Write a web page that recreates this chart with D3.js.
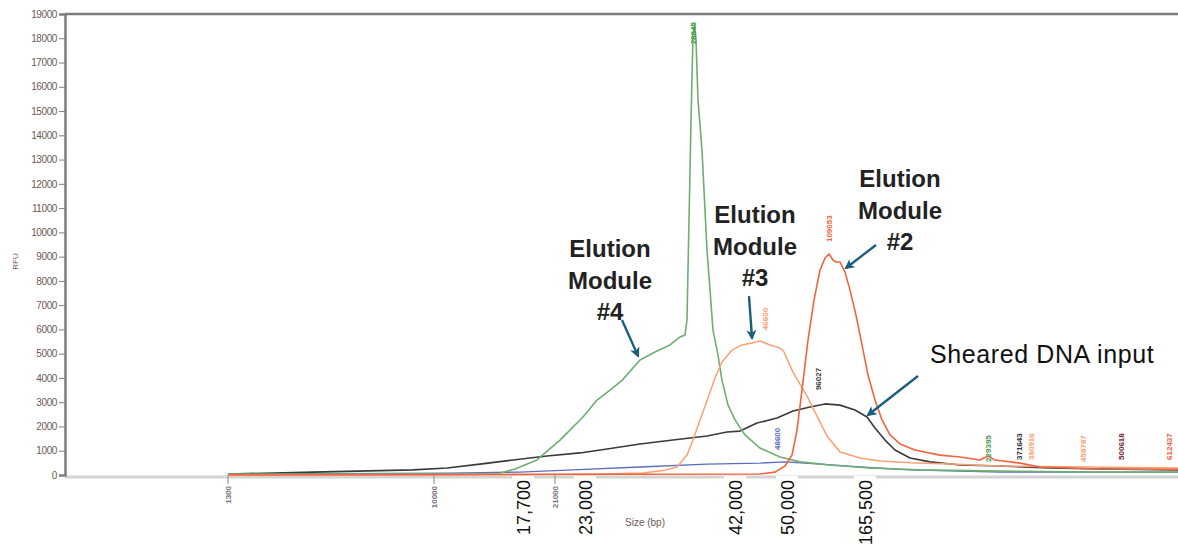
<!DOCTYPE html>
<html>
<head>
<meta charset="utf-8">
<script src="https://cdn.jsdelivr.net/npm/d3@7"></script>
<style>
  body { margin: 0; background: #fff; }
  svg { display: block; font-family: Arial, "Liberation Sans", sans-serif; }
  .tick_text { font-size: 10px; fill: #6b5a55; }
  .peak_label { font-size: 8px; font-weight: bold; }
  .note { font-size: 24px; font-weight: bold; fill: #222; }
</style>
</head>
<body>
<svg class="chart"></svg>
<script>
// x is migration position (arbitrary units), y is RFU
var y_ticks = d3.range(0, 19001, 1000)

var green_trace = [[16.3, 40], [33.5, 40], [43.2, 40], [45.0, 250], [47.2, 620], [49.5, 1440], [51.8, 2390],
    [53.2, 3090], [54.5, 3500], [55.7, 3900], [57.5, 4740], [59.0, 5070], [60.5, 5360], [61.5, 5690], [62.0, 5770],
    [62.2, 6390], [62.4, 10500], [62.6, 14600], [62.8, 18130], [62.95, 18580], [63.1, 17920], [63.3, 15450],
    [63.7, 13390], [64.0, 10920], [64.2, 9270], [64.5, 7620], [64.8, 5970], [65.3, 4940], [65.7, 3900], [66.3, 2880],
    [67.0, 2270], [68.0, 1650], [69.5, 1110], [71.5, 740], [73.5, 540], [76.5, 410], [80.5, 290], [85.5, 210],
    [93.5, 160], [103.5, 120], [111.3, 120]]

var orange_trace = [[16.3, 0], [35.5, 0], [53.5, 40], [57.8, 80], [60.0, 200], [61.2, 330], [62.2, 820], [62.8, 1440],
    [63.5, 2270], [64.3, 3170], [65.0, 4000], [65.7, 4660], [66.7, 5150], [67.7, 5360], [68.7, 5440], [69.5, 5520],
    [70.0, 5440], [70.5, 5360], [71.3, 5270], [71.8, 5150], [72.8, 4240], [74.2, 3250], [75.2, 2430], [76.2, 1610],
    [77.5, 950], [79.5, 700], [81.5, 580], [84.5, 500], [88.5, 450], [93.5, 370], [111.3, 290]]

var red_trace = [[16.3, 0], [69.5, 40], [71.0, 120], [72.0, 370], [72.7, 820], [73.2, 1850], [73.7, 3500], [74.3, 5560],
    [74.9, 7210], [75.5, 8450], [76.0, 8940], [76.4, 9110], [76.8, 8860], [77.1, 8780], [77.5, 8780], [78.0, 8360],
    [78.5, 7620], [79.1, 6590], [79.7, 5360], [80.3, 4120], [81.0, 3090], [81.7, 2270], [82.5, 1650], [83.5, 1280],
    [85.0, 1030], [87.5, 820], [89.5, 740], [91.5, 620], [92.3, 780], [93.0, 620], [95.5, 490], [97.5, 330],
    [103.5, 250], [111.3, 230]]

var black_trace = [[16.3, 40], [24.8, 120], [34.8, 210], [38.2, 290], [41.5, 450], [44.8, 620], [48.2, 780], [51.5, 910],
    [54.2, 1070], [57.5, 1280], [60.8, 1440], [64.2, 1610], [66.2, 1770], [67.5, 1810], [69.2, 2140], [71.2, 2350],
    [72.8, 2640], [74.5, 2800], [76.0, 2930], [77.5, 2880], [79.0, 2680], [80.2, 2390], [81.0, 1940], [82.0, 1440],
    [83.0, 1030], [84.5, 700], [86.5, 540], [89.5, 410], [93.5, 370], [98.5, 290], [103.5, 250], [111.3, 210]]

var blue_trace = [[16.3, 40], [38.5, 80], [45.5, 120], [50.8, 210], [57.5, 330], [64.2, 450], [69.5, 490], [72.0, 540],
    [75.5, 450], [79.5, 330], [84.5, 210], [93.5, 120], [111.3, 120]]

var traces = [
    { 'name': 'blue', 'color': '#5b6fc2', 'width': 1.3, 'values': blue_trace },
    { 'name': 'black', 'color': '#3a3a3a', 'width': 1.6, 'values': black_trace },
    { 'name': 'green', 'color': '#6fae72', 'width': 1.6, 'values': green_trace },
    { 'name': 'orange', 'color': '#f9a174', 'width': 1.5, 'values': orange_trace },
    { 'name': 'red', 'color': '#f0653f', 'width': 1.6, 'values': red_trace },
]

// peak size calls: text, colour, position, rfu where the label starts
var peak_text = ['28845', '46600', '109053', '96027', '48600', '229395', '371643', '380916', '458787', '500618', '612437']
var peak_color = ['#3f9a4a', '#f9a174', '#f0653f', '#444444', '#5b6fc2', '#4d9a4f', '#333333', '#f9a174', '#f9a174', '#7a2a2a', '#f0653f']
var peak_pos = [62.8, 70.0, 76.4, 75.3, 71.2, 92.3, 95.4, 96.6, 101.8, 105.6, 110.4]
var peak_rfu = [17750, 5970, 9600, 3500, 1030, 540, 620, 620, 540, 620, 620]

// ladder marks and hand-added size annotations
var ladder_text = ['1300', '10000', '21000']
var ladder_pos = [16.3, 36.9, 49.0]
var size_text = ['17,700', '23,000', '42,000', '50,000', '165,500']
var size_pos = [45.8, 52.0, 67.0, 72.2, 80.0]

var note_lines = [['Elution', 'Module', '#4'], ['Elution', 'Module', '#3'], ['Elution', 'Module', '#2']]
var note_pos = [54.5, 69.0, 83.5]
var note_rfu = [8970, 10370, 11850]
var arrow_from = [[55.7, 6390], [68.4, 7370], [81.1, 9480], [85.3, 4080]]
var arrow_to = [[57.3, 4910], [68.7, 5640], [78.1, 8530], [80.3, 2470]]

var width = 1178, height = 546
var margin = { left: 65, top: 14, right: 0, bottom: 71 }

var svg = d3.select('.chart')
    .attr('width', width)
    .attr('height', height)

var x = d3.scaleLinear().domain([0, 111.3]).range([margin.left, width - margin.right])
var y = d3.scaleLinear().domain([0, 19000]).range([height - margin.bottom, margin.top])

svg.append('defs').append('marker')
    .attr('id', 'head')
    .attr('viewBox', '0 0 10 10')
    .attr('refX', 8).attr('refY', 5)
    .attr('markerWidth', 4.2).attr('markerHeight', 4.2)
    .attr('orient', 'auto')
    .append('path')
    .attr('d', 'M0,0 L10,5 L0,10 L2.5,5 Z')
    .attr('fill', '#1c5f7c')

// frame
svg.append('line')
    .attr('x1', x(0)).attr('x2', width)
    .attr('y1', y(19000)).attr('y2', y(19000))
    .attr('stroke', '#7d7d7d').attr('stroke-width', 2.5)
svg.append('line')
    .attr('x1', x(0)).attr('x2', width)
    .attr('y1', y(0) + 2).attr('y2', y(0) + 2)
    .attr('stroke', '#d4d4d4').attr('stroke-width', 3)

var y_axis = svg.append('g')
    .attr('transform', 'translate(' + x(0) + ',0)')
    .call(d3.axisLeft(y).tickValues(y_ticks).tickSize(6).tickPadding(2).tickFormat(d3.format('d')))
y_axis.select('.domain').attr('stroke', '#7d7d7d').attr('stroke-width', 2.5)
y_axis.selectAll('.tick line').attr('stroke', '#7d7d7d')
y_axis.selectAll('.tick text').attr('class', 'tick_text').style('font-family', null).style('font-size', null)
    .attr('letter-spacing', -0.4)

svg.append('text')
    .text('RFU')
    .attr('transform', 'translate(18,' + y(8800) + ') rotate(-90)')
    .attr('text-anchor', 'middle')
    .style('font-size', '8px').style('fill', '#6b5a55')

// ladder marks below the baseline
var ladder = svg.selectAll('.ladder')
    .data(ladder_text)
    .enter().append('g')
    .attr('class', 'ladder')
    .attr('transform', (d, i) => 'translate(' + x(ladder_pos[i]) + ',' + y(0) + ')')
ladder.append('line')
    .attr('y1', 0).attr('y2', 9)
    .attr('stroke', '#8a8a8a')
ladder.append('text')
    .text((d) => d)
    .attr('transform', 'translate(3,11) rotate(-90)')
    .attr('text-anchor', 'end')
    .style('font-size', '8px').style('font-weight', 'bold').style('fill', '#7a6e80')

// traces
var line = d3.line()
    .x((d) => x(d[0]))
    .y((d) => y(d[1]))

svg.selectAll('.trace')
    .data(traces)
    .enter().append('path')
    .attr('class', 'trace')
    .attr('d', (d) => line(d.values))
    .attr('fill', 'none')
    .attr('stroke', (d) => d.color)
    .attr('stroke-width', (d) => d.width)
    .attr('stroke-linejoin', 'round')

// peak size calls
svg.selectAll('.peak_label')
    .data(peak_text)
    .enter().append('text')
    .attr('class', 'peak_label')
    .text((d) => d)
    .attr('transform', (d, i) => 'translate(' + (x(peak_pos[i]) + 3) + ',' + y(peak_rfu[i]) + ') rotate(-90)')
    .style('fill', (d, i) => peak_color[i])

// hand-added size annotations with white backing
var size_note = svg.selectAll('.size_note')
    .data(size_text)
    .enter().append('g')
    .attr('class', 'size_note')
    .attr('transform', (d, i) => 'translate(' + x(size_pos[i]) + ',' + (y(0) + 1) + ')')
size_note.append('rect')
    .attr('x', -11).attr('y', 0)
    .attr('width', 22).attr('height', 72)
    .attr('fill', '#fff')
size_note.append('text')
    .text((d) => d)
    .attr('transform', 'translate(7,4) rotate(-90)')
    .attr('text-anchor', 'end')
    .style('font-size', '18px').style('fill', '#111')

svg.append('text')
    .text('Size (bp)')
    .attr('x', x(58)).attr('y', 526)
    .attr('text-anchor', 'middle')
    .style('font-size', '10px').style('fill', '#6b5a55')

// callouts
note_lines.forEach(function (lines, i) {
    var t = svg.append('text')
        .attr('class', 'note')
        .attr('text-anchor', 'middle')
        .attr('x', x(note_pos[i]))
        .attr('y', y(note_rfu[i]))
    lines.forEach(function (s, j) {
        t.append('tspan')
            .attr('x', x(note_pos[i]))
            .attr('dy', j == 0 ? 0 : 31.5)
            .text(s)
    })
})

svg.append('text')
    .text('Sheared DNA input')
    .attr('x', x(86.5)).attr('y', y(4620))
    .attr('letter-spacing', 0.6)
    .style('font-size', '25px').style('fill', '#111')

svg.selectAll('.arrow')
    .data(arrow_from)
    .enter().append('line')
    .attr('class', 'arrow')
    .attr('x1', (d) => x(d[0])).attr('y1', (d) => y(d[1]))
    .attr('x2', (d, i) => x(arrow_to[i][0])).attr('y2', (d, i) => y(arrow_to[i][1]))
    .attr('stroke', '#1c5f7c')
    .attr('stroke-width', 2.4)
    .attr('marker-end', 'url(#head)')
</script>
</body>
</html>
